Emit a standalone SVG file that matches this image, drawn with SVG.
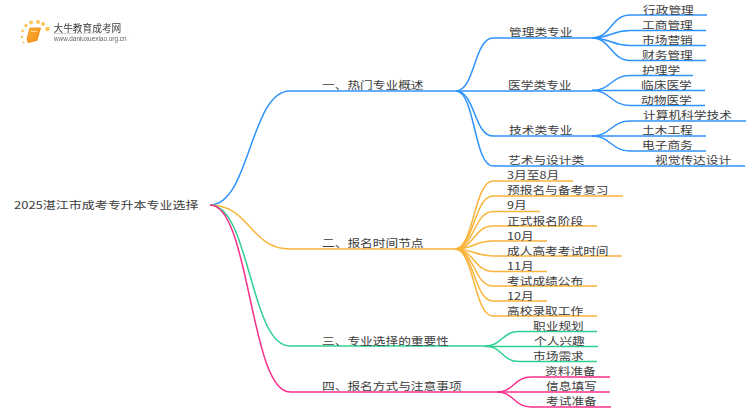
<svg xmlns="http://www.w3.org/2000/svg" width="750" height="410" viewBox="0 0 750 410">
<style>
text{font-family:"Noto Sans CJK SC","Liberation Sans",sans-serif;font-size:10.5px;fill:#3c3c3c}
path{fill:none;stroke-width:1.5}
.b{stroke:#2f93fb}.o{stroke:#fab43a}.g{stroke:#2fcf92}.p{stroke:#fb2f8c}
</style>
<defs>
<linearGradient id="fade"><stop offset="0" stop-color="#ccc"/><stop offset="1" stop-color="#ccc" stop-opacity="0"/></linearGradient>
<linearGradient id="bk" x1="0" y1="0" x2="1" y2="1"><stop offset="0" stop-color="#fbb03b"/><stop offset="1" stop-color="#f08a10"/></linearGradient>
<filter id="soft" x="-5%" y="-5%" width="110%" height="110%"><feGaussianBlur stdDeviation="0.35"/></filter>
</defs>
<rect width="750" height="410" fill="#fff"/>
<g id="logo" filter="url(#soft)">
<circle cx="26" cy="25.500" r="1.700" fill="#fbc75a"/><circle cx="22.500" cy="31" r="1.400" fill="#fbc75a"/><circle cx="31" cy="22.500" r="2" fill="#fbc75a"/><circle cx="38" cy="22" r="2" fill="#fbc75a"/><circle cx="43" cy="24" r="2" fill="#fbc75a"/><circle cx="47.500" cy="29" r="2.300" fill="#fbc75a"/><circle cx="22" cy="37" r="1.200" fill="#fbc75a"/><circle cx="23.500" cy="42.500" r="1" fill="#fbc75a"/>
<path d="M30 28H40.500L37 40.500L28 42.500L27 39Z" style="fill:url(#bk);stroke:#ee8a12;stroke-width:0.800"/>
<path d="M31 31.500H37" style="stroke:#fde0a8;stroke-width:0.800"/>
<text transform="translate(53.500 31.500)" style="font-size:9.700px">大牛教育成考网</text>
<rect x="54" y="33" width="80" height="1" fill="url(#fade)"/>
<text transform="translate(54 41)" style="font-size:6.400px;font-family:'Liberation Sans',sans-serif;fill:#666">www.daniuxuexiao.org.cn</text>
</g>
<g id="connectors">
<path class="b" d="M210 205C250 205 250 91 290 91H456"/>
<path class="o" d="M210 205C250 205 250 249 290 249H455"/>
<path class="g" d="M210 205C250 205 250 346 290 346H485"/>
<path class="p" d="M210 205C250 205 250 392 290 392H497"/>
<path class="b" d="M456 91C475 91 474 38 493 38H592"/>
<path class="b" d="M456 91H592"/>
<path class="b" d="M456 91C475 91 474 136 493 136H592"/>
<path class="b" d="M456 91C475 91 474 166 493 166H745"/>
<path class="b" d="M592 38C611 38 611 15 630 15H707"/>
<path class="b" d="M592 38C611 38 611 30.500 630 30.500H706"/>
<path class="b" d="M592 38C611 38 611 45.500 630 45.500H706"/>
<path class="b" d="M592 38C611 38 611 60.500 630 60.500H706"/>
<path class="b" d="M592 90.500C611 90.500 611 75.500 630 75.500H693"/>
<path class="b" d="M592 90.500H705"/>
<path class="b" d="M592 90.500C611 90.500 611 105.500 630 105.500H705"/>
<path class="b" d="M592 136C611 136 611 121 630 121H746"/>
<path class="b" d="M592 136H706"/>
<path class="b" d="M592 136C611 136 611 151 630 151H706"/>
<path class="o" d="M455 249C474 249 474 181 493 181H573"/>
<path class="o" d="M455 249C474 249 474 196 493 196H623"/>
<path class="o" d="M455 249C474 249 474 211.500 493 211.500H540"/>
<path class="o" d="M455 249C474 249 474 226 493 226H597"/>
<path class="o" d="M455 249C474 249 474 241 493 241H547"/>
<path class="o" d="M455 249C474 249 474 256 493 256H622"/>
<path class="o" d="M455 249C474 249 474 271.500 493 271.500H547"/>
<path class="o" d="M455 249C474 249 474 286 493 286H597"/>
<path class="o" d="M455 249C474 249 474 301 493 301H547"/>
<path class="o" d="M455 249C474 249 474 316 493 316H597"/>
<path class="g" d="M485 346C502 346 502 331.500 519 331.500H597"/>
<path class="g" d="M485 346.500H598"/>
<path class="g" d="M485 346C502 346 502 361.500 519 361.500H597"/>
<path class="p" d="M497 392C514 392 514 377 531 377H610"/>
<path class="p" d="M497 392H610"/>
<path class="p" d="M497 392C514 392 514 407 531 407H611"/>
</g>
<g id="root"><text transform="translate(14 209) scale(1.236 1)">2025湛江市成考专升本专业选择</text></g>
<g id="n1"><text transform="translate(322 89) scale(1.21 1)">一、热门专业概述</text></g>
<g id="n2"><text transform="translate(322 247) scale(1.21 1)">二、报名时间节点</text></g>
<g id="n3"><text transform="translate(322 345) scale(1.21 1)">三、专业选择的重要性</text></g>
<g id="n4"><text transform="translate(322 390) scale(1.21 1)">四、报名方式与注意事项</text></g>
<g id="n11"><text transform="translate(509 36) scale(1.21 1)">管理类专业</text></g>
<g id="n12"><text transform="translate(508 89) scale(1.21 1)">医学类专业</text></g>
<g id="n13"><text transform="translate(509 134) scale(1.21 1)">技术类专业</text></g>
<g id="n14"><text transform="translate(508 164) scale(1.21 1)">艺术与设计类</text></g>
<g id="l1"><text transform="translate(643 13.500) scale(1.21 1)">行政管理</text></g>
<g id="l2"><text transform="translate(642 28.500) scale(1.21 1)">工商管理</text></g>
<g id="l3"><text transform="translate(642 43.500) scale(1.21 1)">市场营销</text></g>
<g id="l4"><text transform="translate(642 58.500) scale(1.21 1)">财务管理</text></g>
<g id="l5"><text transform="translate(642 73.500) scale(1.21 1)">护理学</text></g>
<g id="l6"><text transform="translate(641 88.500) scale(1.21 1)">临床医学</text></g>
<g id="l7"><text transform="translate(641 103.500) scale(1.21 1)">动物医学</text></g>
<g id="l8"><text transform="translate(643 119) scale(1.21 1)">计算机科学技术</text></g>
<g id="l9"><text transform="translate(642 134) scale(1.21 1)">土木工程</text></g>
<g id="l10"><text transform="translate(642 149) scale(1.21 1)">电子商务</text></g>
<g id="l11"><text transform="translate(655 164) scale(1.21 1)">视觉传达设计</text></g>
<g id="t1"><text transform="translate(507 179) scale(1.21 1)">3月至8月</text></g>
<g id="t2"><text transform="translate(507 194) scale(1.21 1)">预报名与备考复习</text></g>
<g id="t3"><text transform="translate(507 209) scale(1.21 1)">9月</text></g>
<g id="t4"><text transform="translate(507 224.500) scale(1.21 1)">正式报名阶段</text></g>
<g id="t5"><text transform="translate(507 239.500) scale(1.21 1)">10月</text></g>
<g id="t6"><text transform="translate(507 254.500) scale(1.21 1)">成人高考考试时间</text></g>
<g id="t7"><text transform="translate(507 269.500) scale(1.21 1)">11月</text></g>
<g id="t8"><text transform="translate(507 284.500) scale(1.21 1)">考试成绩公布</text></g>
<g id="t9"><text transform="translate(507 299.500) scale(1.21 1)">12月</text></g>
<g id="t10"><text transform="translate(507 314.500) scale(1.21 1)">高校录取工作</text></g>
<g id="g1"><text transform="translate(533 329.500) scale(1.21 1)">职业规划</text></g>
<g id="g2"><text transform="translate(534 344.500) scale(1.21 1)">个人兴趣</text></g>
<g id="g3"><text transform="translate(533 359.500) scale(1.21 1)">市场需求</text></g>
<g id="p1"><text transform="translate(545 374.500) scale(1.21 1)">资料准备</text></g>
<g id="p2"><text transform="translate(546 389.500) scale(1.21 1)">信息填写</text></g>
<g id="p3"><text transform="translate(546 404.500) scale(1.21 1)">考试准备</text></g>
</svg>
